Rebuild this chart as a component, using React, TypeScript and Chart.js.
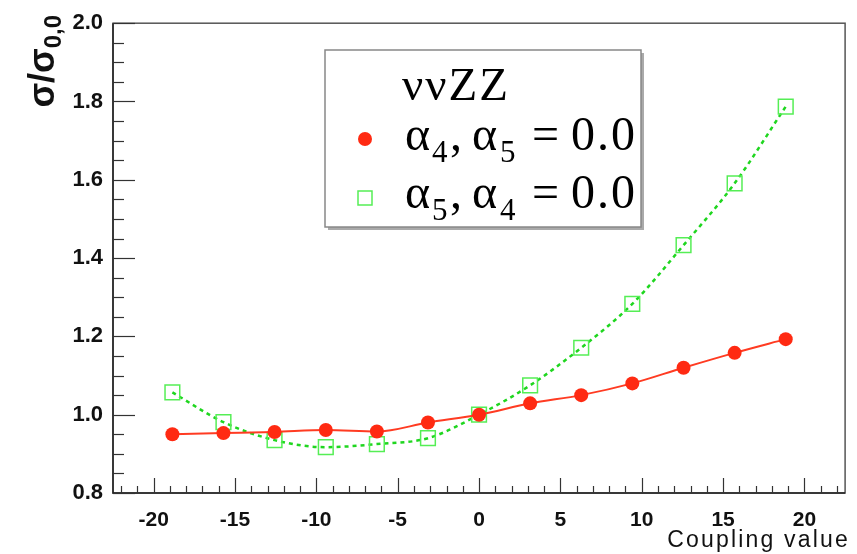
import React, { useEffect, useRef } from "react";
import { Chart, registerables } from "chart.js";

Chart.register(...registerables);

// ---- data ----
const couplingValues = [-18.85, -15.71, -12.57, -9.42, -6.28, -3.14, 0, 3.14, 6.28, 9.42, 12.57, 15.71, 18.85];
const alpha4Ratio = [0.95, 0.953, 0.956, 0.961, 0.957, 0.98, 1.0, 1.029, 1.05, 1.08, 1.12, 1.158, 1.193];
const alpha5Ratio = [1.057, 0.981, 0.935, 0.917, 0.925, 0.94, 1.0, 1.075, 1.171, 1.283, 1.433, 1.591, 1.787];
const xTickValues = [-20, -15, -10, -5, 0, 5, 10, 15, 20];
const yTickValues = [0.8, 1.0, 1.2, 1.4, 1.6, 1.8, 2.0];
const legendTitle = "ννZZ";
const legendEntries = [
  { a: "α", s1: "4", c: ",", b: "α", s2: "5", eq: "=", val: "0.0" },
  { a: "α", s1: "5", c: ",", b: "α", s2: "4", eq: "=", val: "0.0" },
];
const xAxisTitle = "Coupling value";

const RED = "#ff2a12";
const RED_LINE = "#ff3b22";
const GREEN_LINE = "#1fd61f";
const GREEN_MARK = "#55ee55";

const SANS = "'Liberation Sans', Arial, Helvetica, sans-serif";
const SERIF = "'Liberation Serif', 'Times New Roman', serif";

const decorPlugin = {
  id: "rootDecor",
  afterDraw(chart: any) {
    const ctx: CanvasRenderingContext2D = chart.ctx;
    const area = chart.chartArea;
    const xs = chart.scales.x;
    const ys = chart.scales.y;
    ctx.save();

    // frame
    ctx.strokeStyle = "#555";
    ctx.lineWidth = 1.5;
    ctx.strokeRect(area.left, area.top, area.right - area.left, area.bottom - area.top);
    ctx.strokeStyle = "#222";
    ctx.lineWidth = 1.5;
    ctx.beginPath();
    ctx.moveTo(area.left, area.top);
    ctx.lineTo(area.left, area.bottom);
    ctx.lineTo(area.right, area.bottom);
    ctx.stroke();

    // x ticks (inside)
    ctx.strokeStyle = "#333";
    ctx.lineWidth = 1.2;
    for (let v = -22; v <= 22; v++) {
      const px = Math.round(xs.getPixelForValue(v)) + 0.5;
      const len = v % 5 === 0 ? 15 : 7;
      ctx.beginPath();
      ctx.moveTo(px, area.bottom);
      ctx.lineTo(px, area.bottom - len);
      ctx.stroke();
    }
    // y ticks (inside)
    for (let i = 0; i <= 24; i++) {
      const v = 0.8 + i * 0.05;
      const py = Math.round(ys.getPixelForValue(v)) + 0.5;
      const len = i % 4 === 0 ? 22 : 11;
      ctx.beginPath();
      ctx.moveTo(area.left, py);
      ctx.lineTo(area.left + len, py);
      ctx.stroke();
    }

    // x axis title
    ctx.fillStyle = "#111";
    ctx.font = `23px ${SANS}`;
    (ctx as any).letterSpacing = "2.2px";
    ctx.textAlign = "right";
    ctx.textBaseline = "alphabetic";
    ctx.fillText(xAxisTitle, area.right + 5, 547);
    (ctx as any).letterSpacing = "0px";

    // y axis title (rotated, ends at top)
    ctx.save();
    ctx.translate(54, 15);
    ctx.rotate(-Math.PI / 2);
    ctx.textAlign = "left";
    const mainFont = `bold 36px ${SANS}`;
    const subFont = `bold 24px ${SANS}`;
    ctx.font = mainFont;
    const wMain = ctx.measureText("σ/σ").width;
    ctx.font = subFont;
    const wSub = ctx.measureText("0,0").width;
    const total = wMain + wSub;
    ctx.font = mainFont;
    ctx.fillText("σ/σ", -total, 0);
    ctx.font = subFont;
    ctx.fillText("0,0", -total + wMain, 7);
    ctx.restore();

    // legend box
    const bx = 325, by = 50, bw = 316, bh = 177;
    ctx.fillStyle = "#aaa";
    ctx.fillRect(bx + 3, by + bh, bw, 3);
    ctx.fillRect(bx + bw, by + 3, 3, bh);
    ctx.fillStyle = "#fff";
    ctx.fillRect(bx, by, bw, bh);
    ctx.strokeStyle = "#888";
    ctx.lineWidth = 1.5;
    ctx.strokeRect(bx, by, bw, bh);

    ctx.fillStyle = "#000";
    ctx.textAlign = "left";
    ctx.font = `47px ${SERIF}`;
    (ctx as any).letterSpacing = "2px";
    ctx.fillText(legendTitle, 402, 100);
    (ctx as any).letterSpacing = "0px";

    const baselines = [150, 208];
    legendEntries.forEach((e, i) => {
      const base = baselines[i];
      const big = `48px ${SERIF}`;
      const small = `31px ${SERIF}`;
      ctx.font = big;
      ctx.fillText(e.a, 405, base);
      ctx.fillText(e.c, 450, base);
      ctx.fillText(e.b, 472, base);
      ctx.fillText(e.eq, 532, base);
      (ctx as any).letterSpacing = "2px";
      ctx.fillText(e.val, 571, base);
      (ctx as any).letterSpacing = "0px";
      ctx.font = small;
      ctx.fillText(e.s1, 432, base + 12);
      ctx.fillText(e.s2, 500, base + 12);
    });

    // legend markers
    ctx.fillStyle = RED;
    ctx.beginPath();
    ctx.arc(365, 139, 7, 0, Math.PI * 2);
    ctx.fill();
    ctx.strokeStyle = GREEN_MARK;
    ctx.lineWidth = 1.5;
    ctx.strokeRect(358, 191, 14, 14);

    ctx.restore();
  },
};

export default function App() {
  const canvasRef = useRef<HTMLCanvasElement | null>(null);

  useEffect(() => {
    document.body.style.margin = "0";
    const canvas = canvasRef.current;
    if (!canvas) return;
    const chart = new Chart(canvas, {
      type: "line",
      data: {
        datasets: [
          {
            label: "alpha4",
            data: couplingValues.map((x, i) => ({ x, y: alpha4Ratio[i] })),
            borderColor: RED_LINE,
            borderWidth: 2,
            pointStyle: "circle",
            pointRadius: 7,
            pointBackgroundColor: RED,
            pointBorderWidth: 0,
            cubicInterpolationMode: "monotone",
          },
          {
            label: "alpha5",
            data: couplingValues.map((x, i) => ({ x, y: alpha5Ratio[i] })),
            borderColor: GREEN_LINE,
            borderWidth: 2.5,
            borderDash: [4, 4],
            pointStyle: "rect",
            pointRadius: 10.4,
            pointBackgroundColor: "rgba(0,0,0,0)",
            pointBorderColor: GREEN_MARK,
            pointBorderWidth: 1.5,
            cubicInterpolationMode: "monotone",
          },
        ],
      },
      options: {
        responsive: false,
        animation: false,
        layout: { padding: { top: 21, right: 7, left: 0, bottom: 0 } },
        plugins: { legend: { display: false }, tooltip: { enabled: false } },
        scales: {
          x: {
            type: "linear",
            min: -22.5,
            max: 22.5,
            afterBuildTicks: (s: any) => {
              s.ticks = xTickValues.map((v) => ({ value: v }));
            },
            afterFit: (s: any) => {
              s.height = 61;
            },
            grid: { drawOnChartArea: false, drawTicks: false },
            border: { display: false },
            ticks: {
              autoSkip: false,
              maxRotation: 0,
              padding: 15,
              color: "#111",
              font: { family: SANS, size: 21, weight: "bold" },
              callback: (v: any) => String(v),
            },
          },
          y: {
            type: "linear",
            min: 0.8,
            max: 2.0,
            afterBuildTicks: (s: any) => {
              s.ticks = yTickValues.map((v) => ({ value: v }));
            },
            afterFit: (s: any) => {
              s.width = 113;
            },
            grid: { drawOnChartArea: false, drawTicks: false },
            border: { display: false },
            ticks: {
              autoSkip: false,
              padding: 10,
              color: "#111",
              font: { family: SANS, size: 22, weight: "bold" },
              callback: (v: any) => Number(v).toFixed(1),
            },
          },
        },
      },
      plugins: [decorPlugin],
    } as any);
    return () => chart.destroy();
  }, []);

  return (
    <div style={{ width: 857, height: 554, background: "#fff" }}>
      <canvas ref={canvasRef} width={857} height={554} style={{ display: "block" }} />
    </div>
  );
}
